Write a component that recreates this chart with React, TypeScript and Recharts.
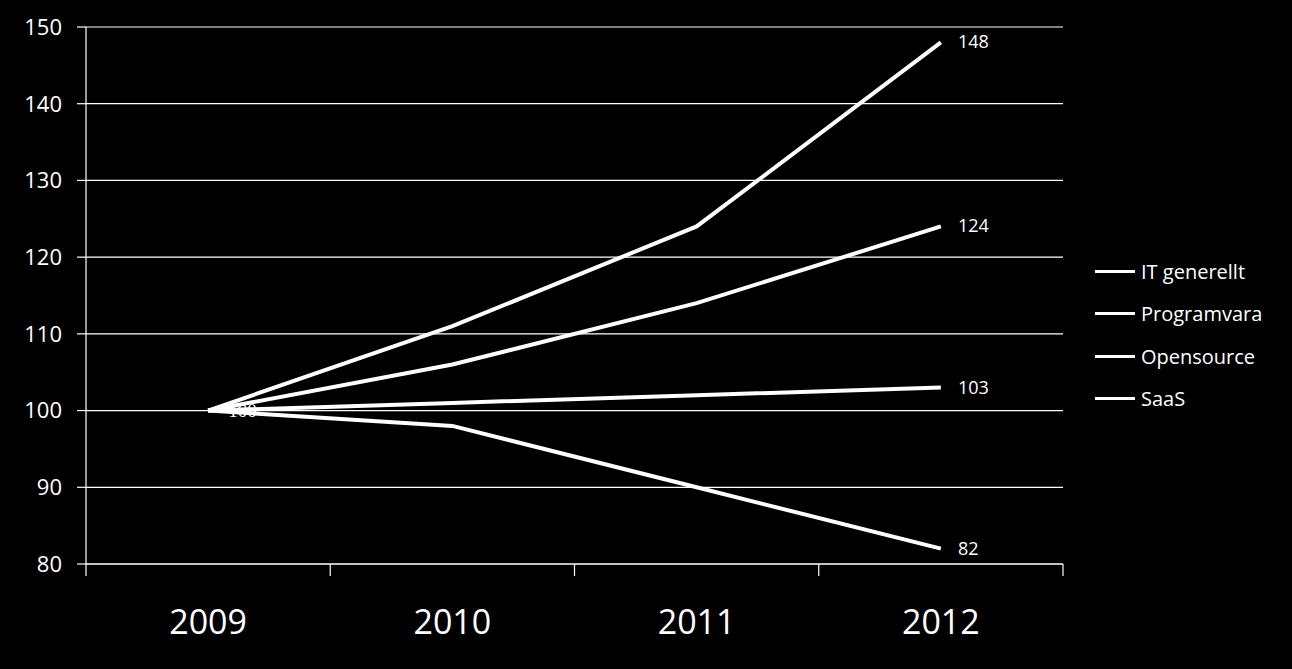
import { CartesianGrid, Legend, Line, LineChart, XAxis, YAxis } from "recharts"

const years = ["2009", "2010", "2011", "2012"]
const itGenerellt = [100, 101, 102, 103]
const programvara = [100, 98, 90, 82]
const opensource = [100, 106, 114, 124]
const saas = [100, 111, 124, 148]
const seriesNames = ["IT generellt", "Programvara", "Opensource", "SaaS"]
const yTicks = [80, 90, 100, 110, 120, 130, 140, 150]

const data = years.map((year, i) => ({
  year,
  it: itGenerellt[i],
  prog: programvara[i],
  open: opensource[i],
  saas: saas[i],
}))

const font = "'Open Sans', sans-serif"

// labels only on last point (and the first point of the first series)
const makeLabel = (showFirst: boolean) => (p: any) => {
  const { x, y, value, index } = p
  if (index === years.length - 1 || (showFirst && index === 0)) {
    return (
      <text
        key={`l-${index}`}
        x={x + (index === 0 ? 20 : 17)}
        y={y + 6}
        fill="#fff"
        fontSize={index === 0 ? 19 : 18}
        fontFamily={index === 0 ? "'Liberation Serif', serif" : font}
      >
        {value}
      </text>
    )
  }
  return null
}

// year label plus tick marks on the category boundaries
function YearTick(props: any) {
  const { x, y, payload, width, visibleTicksCount, index } = props
  const half = width / (visibleTicksCount || years.length) / 2
  const last = index === years.length - 1
  return (
    <g>
      <line x1={x - half} x2={x - half} y1={y} y2={y + 12} stroke="#fff" strokeWidth={1.2} />
      {last && <line x1={x + half} x2={x + half} y1={y} y2={y + 12} stroke="#fff" strokeWidth={1.2} />}
      <text x={x} y={y + 46} dy="0.71em" textAnchor="middle" fill="#fff" fontSize={34} fontFamily={font}>
        {payload.value}
      </text>
    </g>
  )
}

function LegendBox(props: any) {
  const items = [...(props.payload || [])].sort(
    (a: any, b: any) => seriesNames.indexOf(a.value) - seriesNames.indexOf(b.value)
  )
  return (
    <div style={{ fontFamily: font, fontSize: 20, color: "#fff" }}>
      {items.map((it: any) => (
        <div key={it.value} style={{ display: "flex", alignItems: "center", height: 42.5 }}>
          <div style={{ width: 40, height: 3, background: "#fff", marginRight: 6 }} />
          <span>{it.value}</span>
        </div>
      ))}
    </div>
  )
}

export default function App() {
  return (
    <div style={{ position: "absolute", left: 0, top: 0, width: 1292, height: 669, background: "#000" }}>
      <LineChart width={1292} height={669} data={data} margin={{ top: 27, right: 32, bottom: 0, left: 0 }}>
        <CartesianGrid vertical={false} stroke="#fff" strokeWidth={1.2} />
        <XAxis
          dataKey="year"
          scale="band"
          height={105}
          tickLine={false}
          tickSize={0}
          tickMargin={0}
          axisLine={{ stroke: "#fff", strokeWidth: 1.2 }}
          tick={<YearTick />}
        />
        <YAxis
          domain={[80, 150]}
          ticks={yTicks}
          width={86}
          tickSize={9}
          tickMargin={15}
          axisLine={{ stroke: "#fff", strokeWidth: 1.2 }}
          tickLine={{ stroke: "#fff", strokeWidth: 1.2 }}
          tick={{ fill: "#fff", fontSize: 22, fontFamily: font }}
        />
        <Legend
          layout="vertical"
          align="right"
          verticalAlign="top"
          width={197}
          wrapperStyle={{ left: 1095, top: 250, width: 197 }}
          content={<LegendBox />}
        />
        <Line dataKey="it" name={seriesNames[0]} stroke="#fff" strokeWidth={4} dot={false} isAnimationActive={false} label={makeLabel(true)} />
        <Line dataKey="prog" name={seriesNames[1]} stroke="#fff" strokeWidth={4} dot={false} isAnimationActive={false} label={makeLabel(false)} />
        <Line dataKey="open" name={seriesNames[2]} stroke="#fff" strokeWidth={4} dot={false} isAnimationActive={false} label={makeLabel(false)} />
        <Line dataKey="saas" name={seriesNames[3]} stroke="#fff" strokeWidth={4} dot={false} isAnimationActive={false} label={makeLabel(false)} />
      </LineChart>
    </div>
  )
}
